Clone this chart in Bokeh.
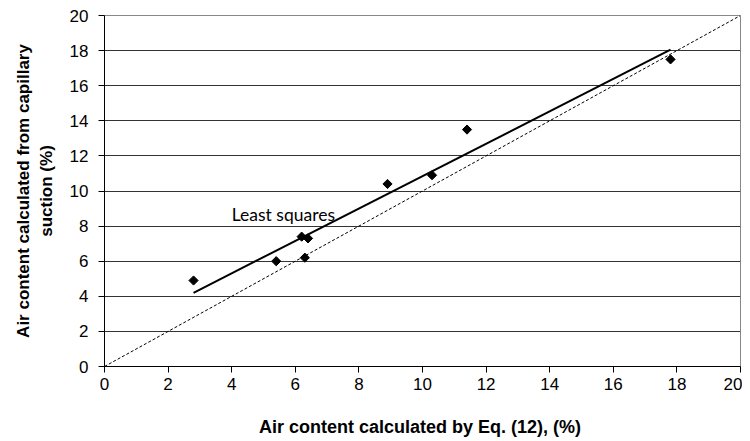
import math
from bokeh.plotting import figure
from bokeh.models import Range1d, SingleIntervalTicker
from bokeh.embed import file_html
from bokeh.resources import INLINE
from bokeh.core.properties import value

# data
meas_x = [2.8, 5.4, 6.2, 6.3, 6.4, 8.9, 10.3, 11.4, 17.8]
meas_y = [4.9, 6.0, 7.4, 6.2, 7.3, 10.4, 10.9, 13.5, 17.5]
fit_x = [2.8, 17.8]
fit_y = [4.2, 18.05]
unity_x = [0, 20]
unity_y = [0, 20]
label_text = ["Least squares"]
label_x = [4.0]
label_y = [8.65]

p = figure(width=742, height=441, output_backend="svg", toolbar_location=None,
           x_range=Range1d(0, 20), y_range=Range1d(0, 20),
           min_border_left=104, min_border_right=2, min_border_top=15, min_border_bottom=75)

p.line(unity_x, unity_y, line_color="black", line_width=1, line_dash="3 2")
p.line(fit_x, fit_y, line_color="black", line_width=2)
p.scatter(meas_x, meas_y, marker="square", angle=math.pi / 4, size=6.5, color="black")
p.text(label_x, label_y, text=label_text, text_font=value("Lato"), text_font_size="17.5px",
       text_baseline="alphabetic", text_align="left", text_color="black")

for ax in (p.xaxis[0], p.yaxis[0]):
    ax.ticker = SingleIntervalTicker(interval=2)
    ax.minor_tick_line_color = None
    ax.major_tick_in = 0
    ax.major_tick_out = 6
    ax.axis_line_color = "black"
    ax.major_tick_line_color = "black"
    ax.major_label_text_font = "Arial"
    ax.major_label_text_font_size = "17px"
    ax.major_label_text_color = "black"
    ax.axis_label_text_font = "Arial"
    ax.axis_label_text_font_style = "bold"
    ax.axis_label_text_color = "black"

p.xaxis.axis_label = "Air content calculated by Eq. (12),  (%)"
p.xaxis.axis_label_text_font_size = "18px"
p.xaxis.axis_label_standoff = 24
p.xaxis.major_label_standoff = 5
p.yaxis.axis_label = "Air content calculated from capillary\nsuction (%)"
p.yaxis.axis_label_text_font_size = "17px"
p.yaxis.axis_label_standoff = 11
p.yaxis.major_label_standoff = 10

p.xgrid.grid_line_color = None
p.ygrid.grid_line_color = "#333333"
p.ygrid.grid_line_width = 1
p.ygrid.ticker = SingleIntervalTicker(interval=2)
p.outline_line_color = "#888888"
p.background_fill_color = "white"
p.border_fill_color = "white"

open("out.html", "w").write(file_html(p, INLINE))
